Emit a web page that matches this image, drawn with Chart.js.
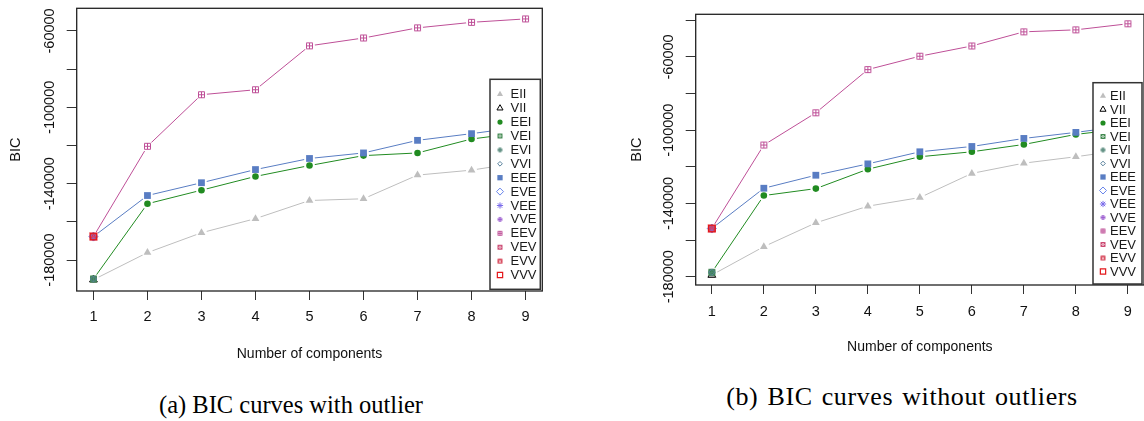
<!DOCTYPE html>
<html>
<head>
<meta charset="utf-8">
<script src="https://cdn.jsdelivr.net/npm/chart.js@4.4.1/dist/chart.umd.min.js"></script>
<style>
  html, body { margin: 0; padding: 0; background: #fff; overflow: hidden; }
  body { width: 1144px; height: 421px; position: relative; }
  .panel { position: absolute; top: 0; }
  .caption {
    position: absolute; width: 440px; text-align: center; white-space: nowrap;
    font-family: "Liberation Serif", "Times New Roman", serif; font-size: 24.5px; line-height: 28px; color: #000;
  }
</style>
</head>
<body>
<div class="panel" style="left:0; width:560px; height:380px;"><canvas id="bicOutlier" width="560" height="380"></canvas></div>
<div class="panel" style="left:580px; width:570px; height:380px;"><canvas id="bicClean" width="570" height="380"></canvas></div>
<div class="caption" style="left:71px; top:391px;">(a) BIC curves with outlier</div>
<div class="caption" style="left:682px; top:383px; font-size:26px; letter-spacing:0.6px; word-spacing:2px;">(b) BIC curves without outliers</div>

<script>
// number of mixture components (x axis)
const components = [1, 2, 3, 4, 5, 6, 7, 8, 9];
const modelNames = ['EII', 'VII', 'EEI', 'VEI', 'EVI', 'VVI', 'EEE', 'EVE', 'VEE', 'VVE', 'EEV', 'VEV', 'EVV', 'VVV'];

// (a) with outlier: BIC of every model at one component, then the four full curves
const outlierOneComp = [-190300, -190300, -189900, -189900, -189900, -189900, -167700, -167700, -167700, -167700, -167700, -167700, -167700, -167700];
const outlierEII = [-190300, -176100, -165700, -158300, -148800, -147900, -135500, -132900, -128500];
const outlierEEI = [-189900, -150500, -143400, -136200, -130500, -125300, -123900, -116600, -113000];
const outlierEEE = [-167700, -146200, -139500, -132600, -126800, -123900, -117300, -113800, -110000];
const outlierEEV = [-167700, -120400, -93400, -90800, -67800, -63700, -58400, -55500, -53700];

// (b) without outliers
const cleanOneComp = [-179100, -179100, -177600, -177600, -177600, -177600, -153700, -153700, -153700, -153700, -153700, -153700, -153700, -153700];
const cleanEII = [-179100, -163600, -150600, -141500, -136800, -123600, -118000, -114500, -110500];
const cleanEEI = [-177600, -135700, -131900, -121300, -114500, -111800, -107800, -102300, -99000];
const cleanEEE = [-153700, -131700, -124600, -118400, -111800, -108900, -104500, -101200, -97500];
const cleanEEV = [-153700, -108100, -90500, -66900, -59600, -54000, -46300, -45200, -41900];

// axis ticks and ranges
const yTicksOutlier = [-180000, -160000, -140000, -120000, -100000, -80000, -60000];
const yTicksClean = [-180000, -160000, -140000, -120000, -100000, -80000, -60000, -40000];
const yLabelled = [-180000, -140000, -100000, -60000];
const xRange = [0.69, 9.31];
const yRangeOutlier = [-196200, -48150];
const yRangeClean = [-184540, -36720];

const FONT = "'Liberation Sans', Arial, sans-serif";

// small R-like plotting symbols drawn on little canvases
function makeSymbol(kind, color, size) {
    const c = document.createElement('canvas');
    c.width = c.height = size;
    const g = c.getContext('2d');
    const m = size / 2, a = 1.5, b = size - 1.5;
    g.strokeStyle = color;
    g.lineWidth = 1;
    g.beginPath();
    if (kind === 'circlePlus') {
        g.arc(m, m, m - 1.5, 0, Math.PI * 2);
        g.moveTo(m, a); g.lineTo(m, b);
        g.moveTo(a, m); g.lineTo(b, m);
    } else {
        g.rect(a, a, b - a, b - a);
        if (kind === 'boxPlus') {
            g.moveTo(m, a); g.lineTo(m, b);
            g.moveTo(a, m); g.lineTo(b, m);
        } else if (kind === 'boxCross') {
            g.moveTo(a, a); g.lineTo(b, b);
            g.moveTo(a, b); g.lineTo(b, a);
        } else if (kind === 'boxTri') {
            g.moveTo(a, b); g.lineTo(m, a); g.lineTo(b, b);
        }
    }
    g.stroke();
    return c;
}

const modelColors = ['#BEBEBE', '#000000', '#218B21', '#41884F', '#508476', '#58819C', '#597DC3',
    '#6A86EC', '#7B6CEB', '#9D5FD0', '#BE4F97', '#CB4770', '#D43A4F', '#E3171B'];

// symbol per model
function symbolFor(i, legend) {
    const col = modelColors[i];
    const s = legend ? 7 : 9;
    const k = legend ? 0.78 : 1;
    switch (modelNames[i]) {
        case 'EII': return { style: 'triangle', r: 4.5 * k, fill: col, bw: 0 };
        case 'VII': return { style: 'triangle', r: 4.5 * k, fill: 'rgba(0,0,0,0)', bw: 1 };
        case 'EEI': return { style: 'circle', r: 3.3 * k, fill: col, bw: 0 };
        case 'VEI': return { style: makeSymbol('boxCross', col, s), r: 4, fill: col, bw: 0 };
        case 'EVI': return { style: makeSymbol('circlePlus', col, s), r: 4, fill: col, bw: 0 };
        case 'VVI': return { style: 'rectRot', r: 3 * k, fill: 'rgba(0,0,0,0)', bw: 1 };
        case 'EEE': return { style: 'rect', r: 4.8 * k, fill: col, bw: 0 };
        case 'EVE': return { style: 'rectRot', r: 4.5 * k, fill: 'rgba(0,0,0,0)', bw: 1 };
        case 'VEE': return { style: 'star', r: 4 * k, fill: col, bw: 1 };
        case 'VVE': return { style: makeSymbol('circlePlus', col, s), r: 4, fill: col, bw: 0 };
        case 'EEV': return { style: makeSymbol('boxPlus', col, s), r: 4, fill: col, bw: 0 };
        case 'VEV': return { style: makeSymbol('boxCross', col, s), r: 4, fill: col, bw: 0 };
        case 'EVV': return { style: makeSymbol('boxTri', col, s), r: 4, fill: col, bw: 0 };
        default: return { style: 'rect', r: 4.8 * k, fill: 'rgba(0,0,0,0)', bw: 1.2 };
    }
}

function buildDatasets(oneComp, curves) {
    return modelNames.map((name, i) => {
        const values = curves[name] || components.map((c, j) => (j === 0 ? oneComp[i] : null));
        const sym = symbolFor(i, false);
        return {
            label: name,
            data: values,
            order: -i,
            borderColor: modelColors[i],
            borderWidth: 1,
            pointStyle: sym.style,
            pointRadius: sym.r,
            pointBackgroundColor: sym.fill,
            pointBorderColor: modelColors[i],
            pointBorderWidth: sym.bw,
            legendSymbol: symbolFor(i, true)
        };
    });
}

// R type="b": short gaps in the lines around each point
const gapPlugin = {
    id: 'typeB',
    afterDatasetsDraw(chart) {
        const ctx = chart.ctx;
        const metas = chart.data.datasets.map((d, i) => chart.getDatasetMeta(i));
        ctx.save();
        ctx.fillStyle = '#fff';
        metas.forEach(meta => {
            const pts = meta.data.filter(p => !p.skip);
            if (pts.length < 2) return;
            pts.forEach(p => {
                ctx.beginPath();
                ctx.arc(p.x, p.y, 5.5, 0, Math.PI * 2);
                ctx.fill();
            });
        });
        metas.forEach(meta => meta.data.forEach(p => { if (!p.skip) p.draw(ctx, chart.chartArea); }));
        ctx.restore();
    }
};

// legend inside the plot, bottom right, like mclust
const insetLegend = {
    id: 'insetLegend',
    afterDatasetsDraw(chart, args, o) {
        const { ctx, chartArea } = chart;
        const x0 = chartArea.right - o.right - o.width;
        const y0 = chartArea.bottom - o.bottom - o.height;
        ctx.save();
        ctx.fillStyle = '#fff';
        ctx.fillRect(x0, y0, o.width, o.height);
        ctx.strokeStyle = '#333';
        ctx.lineWidth = 1.5;
        ctx.strokeRect(x0, y0, o.width, o.height);
        ctx.font = o.fontSize + 'px ' + FONT;
        ctx.textBaseline = 'middle';
        ctx.textAlign = 'left';
        chart.data.datasets.forEach((ds, i) => {
            const y = y0 + o.firstRow + i * o.rowHeight;
            const sym = ds.legendSymbol;
            ctx.fillStyle = sym.fill;
            ctx.strokeStyle = ds.borderColor;
            ctx.lineWidth = sym.bw;
            Chart.helpers.drawPoint(ctx, { pointStyle: sym.style, radius: sym.r, rotation: 0, borderWidth: sym.bw }, x0 + o.symbolX, y);
            ctx.fillStyle = '#1a1a1a';
            ctx.fillText(ds.label, x0 + o.textX, y + 0.5);
        });
        ctx.restore();
    }
};

const boxPlugin = {
    id: 'plotBox',
    afterDraw(chart) {
        const { ctx, chartArea: a } = chart;
        ctx.save();
        ctx.strokeStyle = '#222';
        ctx.lineWidth = 1.3;
        ctx.strokeRect(a.left, a.top, a.right - a.left, a.bottom - a.top);
        ctx.restore();
    }
};

function makeChart(id, datasets, yTicks, yRange, g) {
    return new Chart(document.getElementById(id), {
        type: 'line',
        data: { labels: components, datasets: datasets },
        plugins: [gapPlugin, insetLegend, boxPlugin],
        options: {
            responsive: false,
            animation: false,
            layout: { padding: g.padding },
            plugins: {
                legend: { display: false },
                tooltip: { enabled: false },
                insetLegend: g.legend
            },
            scales: {
                x: {
                    type: 'linear',
                    min: xRange[0],
                    max: xRange[1],
                    afterBuildTicks: s => { s.ticks = components.map(v => ({ value: v })); },
                    afterFit: s => { s.height = 80; },
                    grid: { drawOnChartArea: false, drawTicks: true, tickLength: 9, color: '#333' },
                    border: { display: false },
                    ticks: { autoSkip: false, maxRotation: 0, color: '#111', padding: g.xTickPad, font: { family: FONT, size: 14.5 } },
                    title: { display: true, text: 'Number of components', color: '#111', font: { family: FONT, size: 14 }, padding: { top: 0, bottom: g.xTitlePad } }
                },
                y: {
                    type: 'linear',
                    min: yRange[0],
                    max: yRange[1],
                    afterBuildTicks: s => { s.ticks = yTicks.map(v => ({ value: v })); },
                    afterFit: s => { s.width = g.yWidth; },
                    grid: { drawOnChartArea: false, drawTicks: true, tickLength: 10, color: '#333' },
                    border: { display: false },
                    ticks: {
                        autoSkip: false, minRotation: 90, maxRotation: 90, crossAlign: 'center',
                        padding: g.yTickPad, color: '#111', font: { family: FONT, size: 14.5 },
                        callback: v => (yLabelled.includes(v) ? String(v) : '')
                    },
                    title: { display: true, text: 'BIC', color: '#111', font: { family: FONT, size: 14.5 }, padding: { top: g.yTitlePad, bottom: 0 } }
                }
            }
        }
    });
}

makeChart('bicOutlier',
    buildDatasets(outlierOneComp, { EII: outlierEII, EEI: outlierEEI, EEE: outlierEEE, EEV: outlierEEV }),
    yTicksOutlier, yRangeOutlier, {
        padding: { left: 0, top: 8.3, right: 17.7, bottom: 9 },
        yWidth: 76.7, yTickPad: -9.8, yTitlePad: 7.4, xTickPad: 8.4, xTitlePad: 8.8,
        legend: { right: 2, bottom: 1.7, width: 50.3, height: 210, firstRow: 15, rowHeight: 13.9, symbolX: 10, textX: 20.5, fontSize: 13 }
    });

makeChart('bicClean',
    buildDatasets(cleanOneComp, { EII: cleanEII, EEI: cleanEEI, EEE: cleanEEE, EEV: cleanEEV }),
    yTicksClean, yRangeClean, {
        padding: { left: 0, top: 14.3, right: 6, bottom: 15 },
        yWidth: 115.7, yTickPad: -9.5, yTitlePad: 48.4, xTickPad: 9.1, xTitlePad: 9.8,
        legend: { right: 2, bottom: 1, width: 49, height: 201.3, firstRow: 13.3, rowHeight: 13.5, symbolX: 10, textX: 17, fontSize: 13 }
    });
</script>
</body>
</html>
